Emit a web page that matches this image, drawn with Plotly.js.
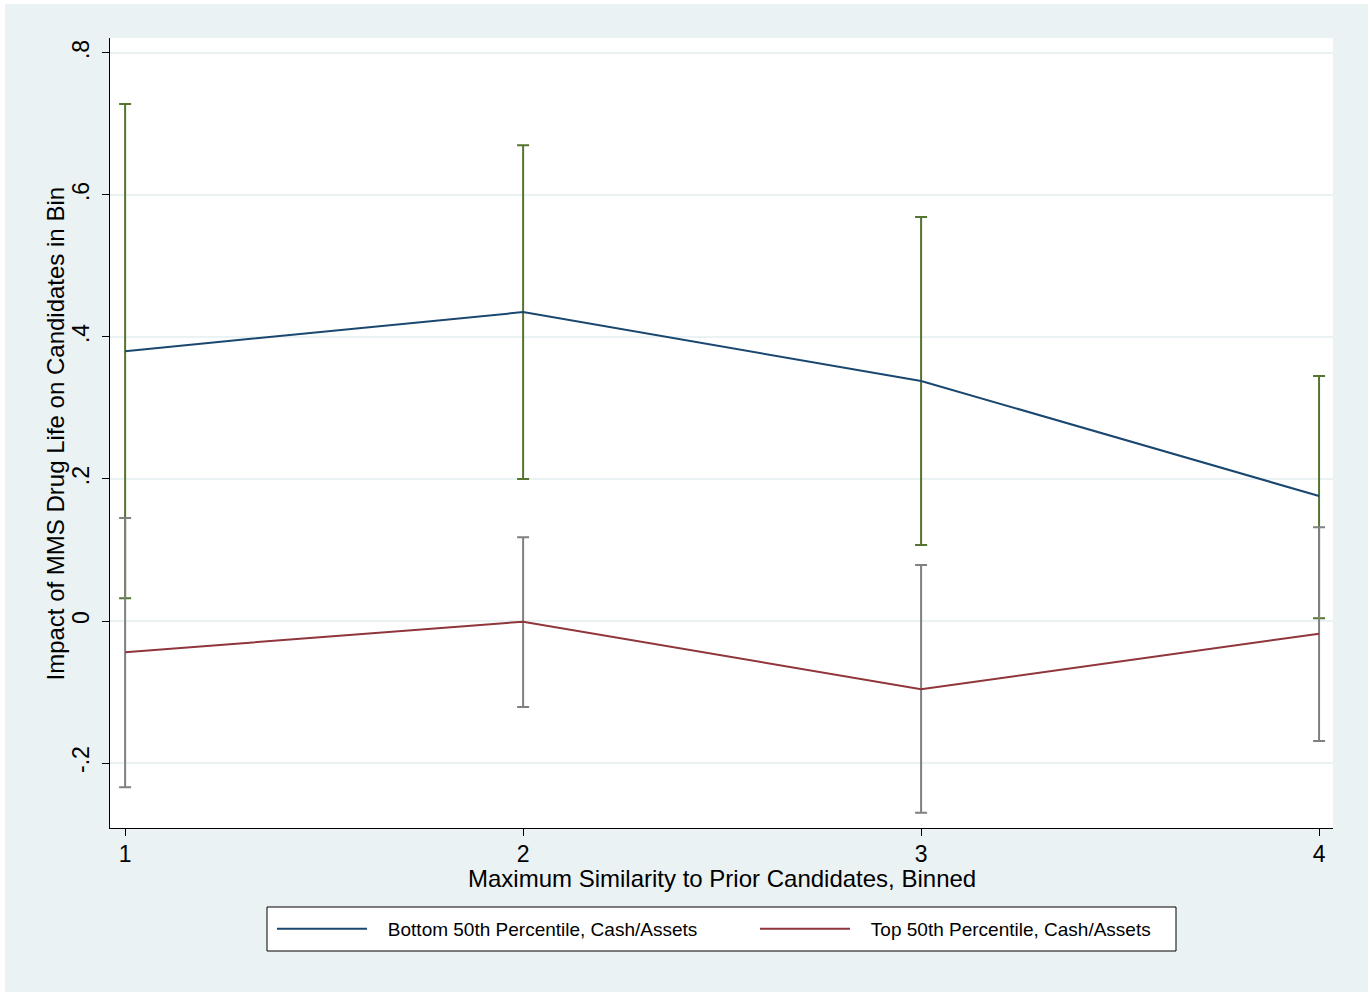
<!DOCTYPE html>
<html>
<head>
<meta charset="utf-8">
<script src="https://cdn.plot.ly/plotly-3.0.1.min.js"></script>
<style>
  html, body { margin: 0; padding: 0; background: #ffffff; }
  #chart { position: absolute; left: 5px; top: 4px; width: 1363px; height: 988px; }
</style>
</head>
<body>
<div id="chart"></div>
<script>
// Data
const bins = [1, 2, 3, 4];
const bottomEstimate = [0.380, 0.435, 0.338, 0.176];
const bottomUpper    = [0.728, 0.670, 0.569, 0.345];
const bottomLower    = [0.032, 0.200, 0.107, 0.004];
const topEstimate    = [-0.044, -0.001, -0.096, -0.018];
const topUpper       = [0.145, 0.118, 0.079, 0.132];
const topLower       = [-0.234, -0.121, -0.270, -0.169];
const seriesNames = ["Bottom 50th Percentile, Cash/Assets", "Top 50th Percentile, Cash/Assets"];
const yTickVals = [-0.2, 0, 0.2, 0.4, 0.6, 0.8];
const yTickText = ["-.2", "0", ".2", ".4", ".6", ".8"];
const xTickVals = [1, 2, 3, 4];
const xTickText = ["1", "2", "3", "4"];
const xTitle = "Maximum Similarity to Prior Candidates, Binned";
const yTitle = "Impact of MMS Drug Life on Candidates in Bin";

const FONT = "Liberation Sans, Arial, sans-serif";
const GAP = "\u00a0\u00a0\u00a0";
const plus = (hi, est) => hi.map((v, i) => v - est[i]);
const minus = (lo, est) => est.map((v, i) => v - lo[i]);

function ciTrace(est, hi, lo, color) {
  return {
    x: bins, y: est, type: "scatter", mode: "markers",
    marker: { size: 1, color: "rgba(0,0,0,0)" },
    error_y: { type: "data", symmetric: false, array: plus(hi, est), arrayminus: minus(lo, est),
               color: color, thickness: 2, width: 6 },
    showlegend: false, hoverinfo: "skip"
  };
}

const traces = [
  ciTrace(bottomEstimate, bottomUpper, bottomLower, "#55752f"),
  { x: bins, y: bottomEstimate, type: "scatter", mode: "lines", name: GAP + seriesNames[0],
    line: { color: "#1a476f", width: 2 } },
  ciTrace(topEstimate, topUpper, topLower, "#808080"),
  { x: bins, y: topEstimate, type: "scatter", mode: "lines", name: GAP + seriesNames[1],
    line: { color: "#90353b", width: 2 } }
];

// plot area in page px: x 110..1333, y 38..828
const px = v => (v - 110) / 1223;
const py = v => (828 - v) / 790;

const layout = {
  width: 1363, height: 988,
  paper_bgcolor: "#eaf2f3", plot_bgcolor: "#ffffff",
  margin: { l: 105, r: 35, t: 34, b: 164, pad: 0 },
  font: { family: FONT, color: "#000000" },
  showlegend: true,
  xaxis: {
    range: [0.962, 4.035], tickvals: xTickVals, ticktext: xTickText,
    showgrid: false, zeroline: false, showline: true, linecolor: "#000000", linewidth: 1,
    ticks: "outside", ticklen: 7, tickwidth: 1, tickcolor: "#000000",
    tickfont: { size: 23, family: FONT }, ticklabelstandoff: -2,
    automargin: false
  },
  yaxis: {
    range: [-0.2915, 0.821], tickvals: yTickVals, ticktext: yTickText, tickangle: -90,
    showgrid: true, gridcolor: "#eaf2f3", gridwidth: 1.5, zeroline: false,
    showline: true, linecolor: "#000000", linewidth: 1,
    ticks: "outside", ticklen: 7, tickwidth: 1, tickcolor: "#000000",
    tickfont: { size: 23, family: FONT }, ticklabelstandoff: 4,
    automargin: false
  },
  annotations: [
    { text: xTitle, xref: "paper", yref: "paper", x: px(722), y: py(879), xanchor: "center", yanchor: "middle",
      showarrow: false, font: { size: 24, family: FONT, color: "#000000" } },
    { text: yTitle, xref: "paper", yref: "paper", x: px(55), y: py(433.5), xanchor: "center", yanchor: "middle",
      textangle: -90, showarrow: false, font: { size: 24, family: FONT, color: "#000000" } }
  ],
  shapes: [{
    type: "rect", xref: "paper", yref: "paper", layer: "above",
    x0: px(267), x1: px(1176), y0: py(951), y1: py(907),
    fillcolor: "#ffffff", line: { color: "#000000", width: 1 }
  }],
  legend: {
    orientation: "h", x: px(272), xanchor: "left", y: py(910), yanchor: "top",
    bgcolor: "rgba(0,0,0,0)", borderwidth: 0,
    font: { size: 19, family: FONT }, itemwidth: 90, entrywidth: 378, entrywidthmode: "pixels",
    traceorder: "normal"
  }
};

Plotly.newPlot("chart", traces, layout, { displayModeBar: false, staticPlot: true });
</script>
</body>
</html>
